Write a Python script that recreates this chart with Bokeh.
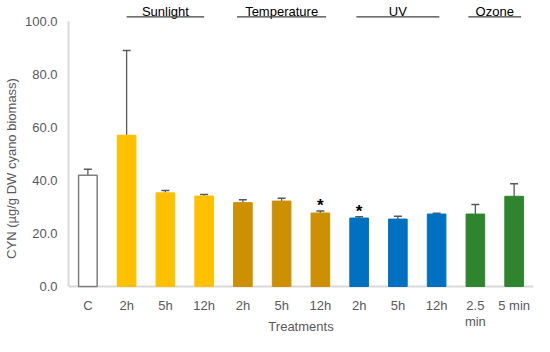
from bokeh.plotting import figure
from bokeh.models import ColumnDataSource, Range1d, FixedTicker, PrintfTickFormatter, Whisker, TeeHead
from bokeh.core.properties import value
from bokeh.embed import file_html
from bokeh.resources import INLINE

# ---- data ----
tick_labels = ["C", "2h", "5h", "12h", "2h", "5h", "12h", "2h", "5h", "12h", "2.5\nmin", "5 min"]
groups = ["Control", "Sunlight", "Sunlight", "Sunlight", "Temperature", "Temperature", "Temperature",
          "UV", "UV", "UV", "Ozone", "Ozone"]
cyn_mean = [41.9, 57.0, 35.3, 34.1, 31.6, 32.2, 27.7, 25.8, 25.4, 27.3, 27.3, 34.0]
cyn_err = [2.3, 32.0, 0.9, 0.6, 1.1, 1.1, 0.8, 0.5, 1.1, 0.3, 3.6, 4.7]
significant = [False, False, False, False, False, False, True, True, False, False, False, False]
group_names = ["Sunlight", "Temperature", "UV", "Ozone"]
y_ticks = [0, 20, 40, 60, 80, 100]
x_title = "Treatments"
y_title = "CYN (µg/g DW cyano biomass)"

# ---- styles ----
fill_map = {"Control": "white", "Sunlight": "#FFC000", "Temperature": "#CC9000",
            "UV": "#0070C0", "Ozone": "#2E852E"}
line_map = {"Control": "#7F7F7F", "Sunlight": "#FFC000", "Temperature": "#CC9000",
            "UV": "#0070C0", "Ozone": "#2E852E"}
# half-widths of the heading underlines (in category units)
heading_half = {"Sunlight": 1.0, "Temperature": 1.15, "UV": 1.07, "Ozone": 0.68}
FONT = "Liberation Sans"
GRAY = "#595959"
AXIS_GRAY = "#D9D9D9"

n = len(tick_labels)
xs = list(range(n))
src = ColumnDataSource(dict(
    x=xs,
    top=cyn_mean,
    upper=[m + e for m, e in zip(cyn_mean, cyn_err)],
    fill=[fill_map[g] for g in groups],
    line=[line_map[g] for g in groups],
    lw=[1.5 if g == "Control" else 1.0 for g in groups],
))

y_max = y_ticks[-1]
p = figure(width=534, height=336, output_backend="svg", toolbar_location=None,
           x_range=Range1d(-0.5, n - 0.5), y_range=Range1d(-18.85, 107.8),
           x_axis_location=None,
           min_border_left=63, min_border_right=1, min_border_top=0, min_border_bottom=0)
p.outline_line_color = None
p.grid.visible = False
p.background_fill_color = "white"

# x axis baseline
p.segment(x0=[-0.5], x1=[n - 0.5], y0=[0], y1=[0], line_color=AXIS_GRAY, line_width=2)

p.vbar(x="x", top="top", width=0.48, fill_color="fill", line_color="line",
       line_width="lw", source=src)

p.add_layout(Whisker(base="x", upper="upper", lower="top", source=src,
                     line_color=GRAY, line_width=1.3,
                     upper_head=TeeHead(size=8, line_color=GRAY, line_width=1.5),
                     lower_head=None))

# significance stars
sx = [x for x, s in zip(xs, significant) if s]
sy = [m + e + 2.0 for m, e, s in zip(cyn_mean, cyn_err, significant) if s]
p.text(x=sx, y=sy, text=["*"] * len(sx), text_align="center", text_baseline="middle",
       text_font=value(FONT), text_font_size="17px", text_font_style="bold", text_color="black")

# group headings
for gname in group_names:
    idx = [i for i, g in enumerate(groups) if g == gname]
    c = (idx[0] + idx[-1]) / 2
    h = heading_half[gname]
    p.text(x=[c], y=[103.7], text=[gname], text_align="center", text_baseline="middle",
           text_font=value(FONT), text_font_size="13px", text_color="black")
    p.segment(x0=[c - h], x1=[c + h], y0=[101.6], y1=[101.6], line_color="#404040", line_width=1.3)

# category tick labels and x title (drawn below the baseline)
p.text(x=xs, y=[-4.15] * n, text=tick_labels, text_align="center", text_baseline="top",
       text_font=value(FONT), text_font_size="13px", text_color=GRAY, text_line_height=1.1)
p.text(x=[(n - 1) / 2], y=[-15.1], text=[x_title], text_align="center", text_baseline="middle",
       text_font=value(FONT), text_font_size="13px", text_color=GRAY)

# y axis
p.yaxis.bounds = (0, y_max)
p.yaxis.ticker = FixedTicker(ticks=y_ticks)
p.yaxis.formatter = PrintfTickFormatter(format="%.1f")
p.yaxis.axis_line_color = AXIS_GRAY
p.yaxis.axis_line_width = 2
p.yaxis.major_tick_line_color = None
p.yaxis.minor_tick_line_color = None
p.yaxis.major_tick_out = 0
p.yaxis.major_tick_in = 0
p.yaxis.major_label_text_font = FONT
p.yaxis.major_label_text_font_size = "13px"
p.yaxis.major_label_text_color = GRAY
p.yaxis.major_label_standoff = 11
p.yaxis.axis_label = y_title
p.yaxis.axis_label_text_font = FONT
p.yaxis.axis_label_text_font_size = "13px"
p.yaxis.axis_label_text_font_style = "normal"
p.yaxis.axis_label_text_color = GRAY
p.yaxis.axis_label_standoff = 3

open("out.html", "w").write(file_html(p, INLINE))
